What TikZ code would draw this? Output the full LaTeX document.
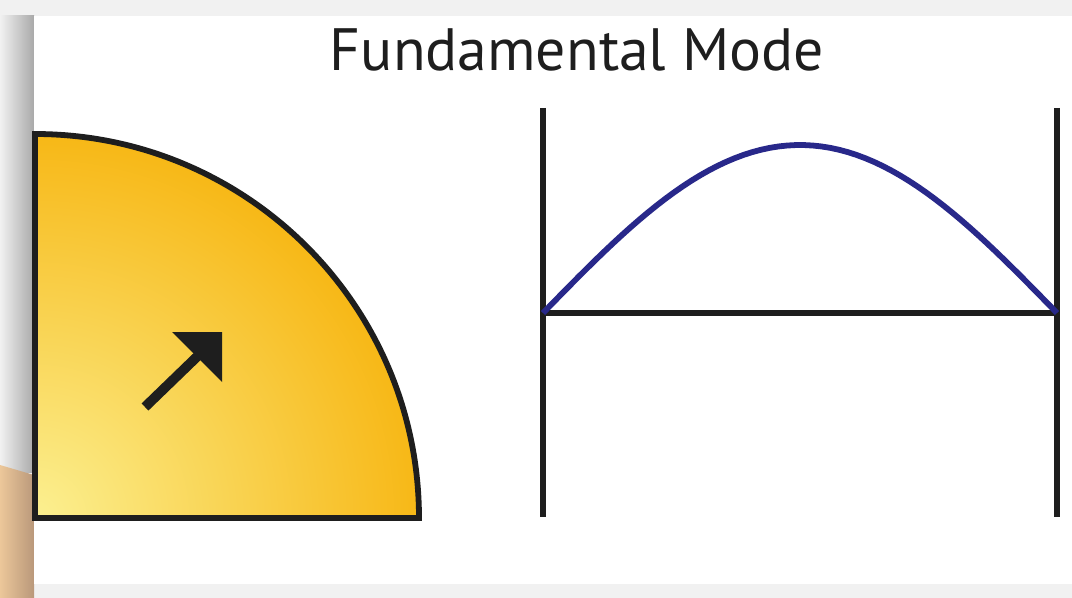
\documentclass[tikz,border=0pt]{standalone}
\usepackage{fontspec}
\setmainfont{PT Sans}
\usetikzlibrary{calc}
\definecolor{pagebg}{HTML}{F1F1F1}
\definecolor{shade}{HTML}{A9A9A9}
\definecolor{tanl}{HTML}{ECC79A}
\definecolor{tand}{HTML}{B9987A}
\definecolor{sunin}{HTML}{FBF091}
\definecolor{sunout}{HTML}{F7B40E}
\definecolor{ink}{HTML}{1E1E1E}
\definecolor{wave}{HTML}{28288A}
\begin{document}
\begin{tikzpicture}[
  x=0.02cm, y=-0.02cm,
  outline/.style={draw=ink, line width=3.3pt},
  wall/.style={draw=ink, line width=3.4pt},
  string/.style={draw=ink, line width=3pt},
  modeline/.style={draw=wave, line width=3.3pt},
]
\useasboundingbox (0,0) rectangle (1072,598);
% --- backdrop ---
\fill[pagebg] (0,0) rectangle (1072,598);
\shade[left color=pagebg, right color=shade] (0,16) rectangle (34,472);
\shade[left color=tanl, right color=tand] (0,465) -- (34,475) -- (34,598) -- (0,598) -- cycle;
\fill[white] (34,16) rectangle (1072,584);
% --- title ---
\node[font=\fontsize{34}{38}\selectfont, text=ink] (title) at (577,50) {Fundamental Mode};
% --- quarter disc ---
\coordinate (ctr) at (35,518);
\begin{scope}
  \clip (ctr) -- (35,134) arc[start angle=-90, end angle=0, radius=384] -- cycle;
  \shade[inner color=sunin, outer color=sunout] (ctr) circle[radius=410];
\end{scope}
\draw[outline, line join=miter] (ctr) -- (35,134) arc[start angle=-90, end angle=0, radius=384] -- cycle;
% arrow
\coordinate (atail) at (145,407);
\coordinate (atip) at (222,332);
\draw[ink, line width=5.6pt] (atail) -- (205,349);
\fill[ink] (atip) -- (172,332) -- (222,382) -- cycle;
% --- string with fixed ends ---
\coordinate (lend) at (543,313);
\coordinate (rend) at (1057,313);
\draw[wall] (543,108) -- (543,517);
\draw[wall] (1057,108) -- (1057,517);
\draw[string] (lend) -- (rend);
\draw[modeline] (lend) plot[domain=0:180, samples=60] ({543+\x/180*514},{313-168*sin(\x)});
\end{tikzpicture}
\end{document}
